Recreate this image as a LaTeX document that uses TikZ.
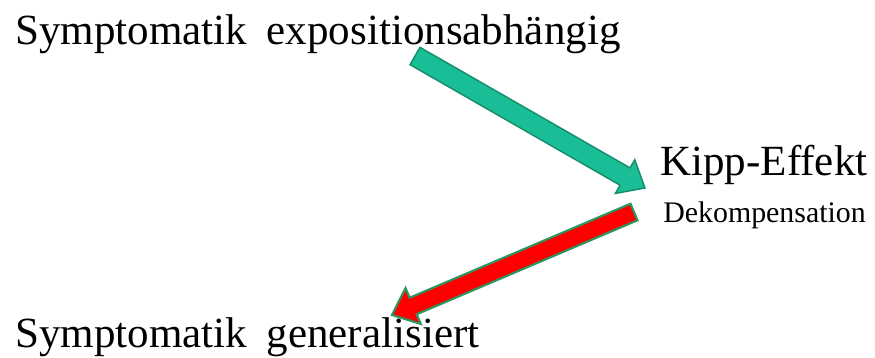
\documentclass[tikz,border=0pt]{standalone}
\usepackage{fontspec}
\setmainfont{Liberation Serif}
\usepackage{tikz}
\usetikzlibrary{calc}
\usepackage{xcolor}

\definecolor{tealfill}{RGB}{26,190,150}
\definecolor{tealline}{RGB}{20,140,105}
\definecolor{redline}{RGB}{45,150,95}

% block arrow: style, tail, tip, shaft half width, head half width, head length
\newcommand{\blockarrow}[6]{%
    \coordinate (#3base) at ($(#3)!#6!(#2)$);
    \draw[#1] ($(#2)!#4!90:(#3)$) -- ($(#3base)!#4!90:(#3)$) -- ($(#3base)!#5!90:(#3)$)
        -- (#3) -- ($(#3base)!#5!-90:(#3)$) -- ($(#3base)!#4!-90:(#3)$)
        -- ($(#2)!#4!-90:(#3)$) -- cycle;}

\begin{document}
\begin{tikzpicture}[
    x=0.02cm, y=-0.02cm,
    big/.style={anchor=base west, inner sep=0pt, font=\fontsize{24.5pt}{28pt}\selectfont},
    small/.style={anchor=base west, inner sep=0pt, font=\fontsize{17pt}{20pt}\selectfont},
    greenarrow/.style={fill=tealfill, draw=tealline, line width=0.8pt, line join=miter},
    redarrow/.style={fill=red, draw=redline, line width=1.2pt, line join=miter}
]
    \useasboundingbox (0,0) rectangle (875,358);

    \node[big] (expo) at (15,45) {Symptomatik \hspace{0.2em}expositionsabhängig};
    \node[big] (kipp) at (660,175) {Kipp-Effekt};
    \node[small] (dekomp) at (663,222) {Dekompensation};
    \node[big] (general) at (15,347) {Symptomatik \hspace{0.2em}generalisiert};

    % arrows
    \coordinate (gtail) at (415,56);
    \coordinate (ghead) at (645,188);
    \coordinate (rtail) at (634,212);
    \coordinate (rhead) at (392,315);
    \blockarrow{greenarrow}{gtail}{ghead}{0.2cm}{0.39cm}{0.46cm}
    \blockarrow{redarrow}{rtail}{rhead}{0.18cm}{0.39cm}{0.46cm}
\end{tikzpicture}
\end{document}
